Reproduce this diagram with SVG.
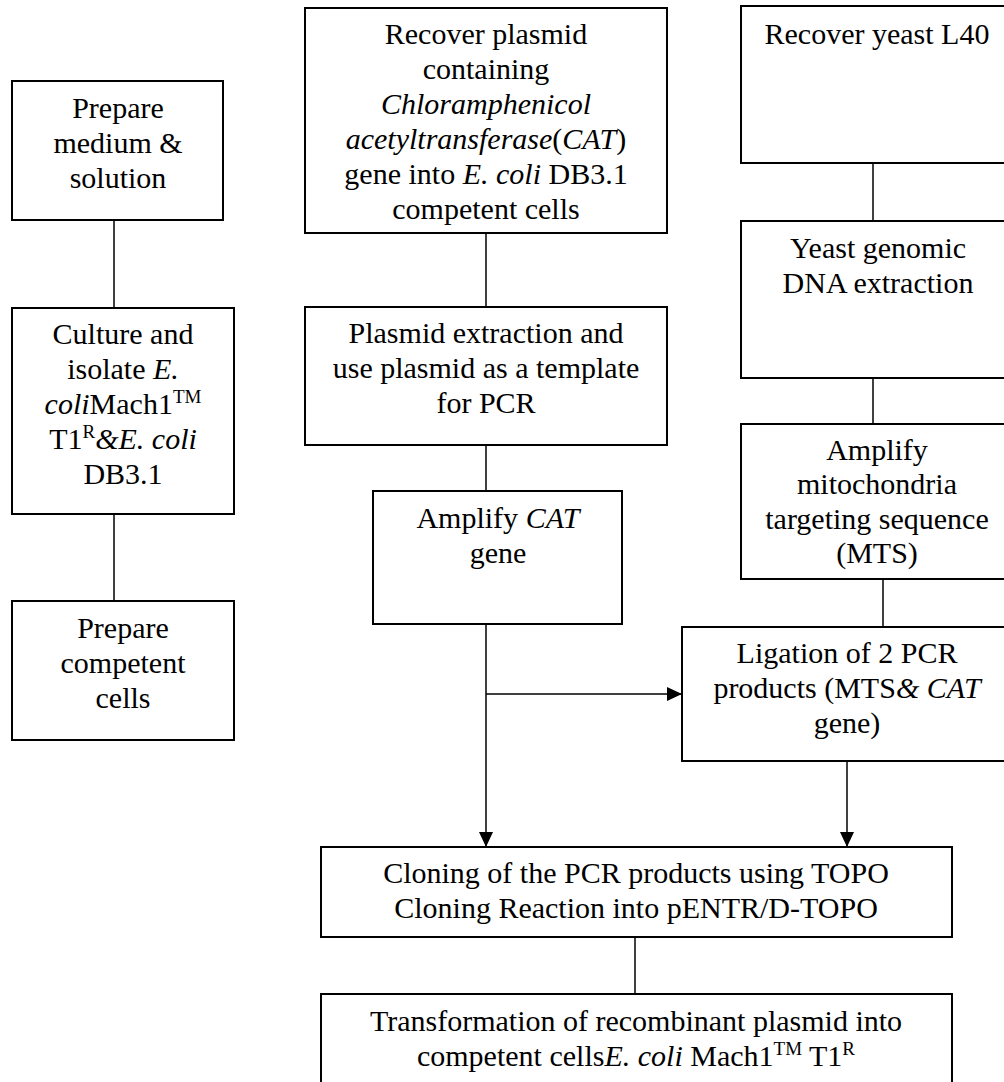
<svg xmlns="http://www.w3.org/2000/svg" width="1004" height="1082" viewBox="0 0 1004 1082">
<style>
.box{fill:#fff;stroke:#000;stroke-width:2}
.conn{stroke:#000;stroke-width:1.5;fill:none}
.t text{font-size:30px;text-anchor:middle;fill:#000}
.i{font-style:italic}
.sup{font-size:19px}
</style>
<defs>
<marker id="arr" markerUnits="userSpaceOnUse" markerWidth="15" markerHeight="14" refX="15" refY="7" orient="auto">
<path d="M0,0 L15,7 L0,14 z" fill="#000"/>
</marker>
</defs>
<rect width="1004" height="1082" fill="#fff"/>
<g id="connectors">
<path class="conn" d="M114,220 V308"/>
<path class="conn" d="M114,514 V601"/>
<path class="conn" d="M486,233 V307"/>
<path class="conn" d="M486,445 V491"/>
<path class="conn" d="M486,624 V847" marker-end="url(#arr)"/>
<path class="conn" d="M486,694 H682" marker-end="url(#arr)"/>
<path class="conn" d="M873,163 V221"/>
<path class="conn" d="M873,378 V424"/>
<path class="conn" d="M883,579 V627"/>
<path class="conn" d="M847,761 V847" marker-end="url(#arr)"/>
<path class="conn" d="M635,937 V994"/>
</g>
<g class="t" font-family="'Liberation Serif', 'Times New Roman', 'DejaVu Serif', serif">
<g id="prepare-medium">
<rect class="box" x="12" y="81" width="211" height="139"/>
<text x="118" y="118">Prepare</text>
<text x="118" y="153">medium &amp;</text>
<text x="118" y="188">solution</text>
</g>
<g id="culture-isolate">
<rect class="box" x="12" y="308" width="222" height="206"/>
<text x="123" y="344">Culture and</text>
<text x="123" y="379">isolate <tspan class="i">E.</tspan></text>
<text x="123" y="414"><tspan class="i">coli</tspan>Mach1<tspan class="sup" dy="-11">TM</tspan></text>
<text x="123" y="449">T1<tspan class="sup" dy="-11">R</tspan><tspan class="i" dy="11">&amp;E. coli</tspan></text>
<text x="123" y="484">DB3.1</text>
</g>
<g id="prepare-competent">
<rect class="box" x="12" y="601" width="222" height="139"/>
<text x="123" y="638">Prepare</text>
<text x="123" y="673">competent</text>
<text x="123" y="708">cells</text>
</g>
<g id="recover-plasmid">
<rect class="box" x="305" y="8" width="362" height="225"/>
<text x="486" y="44">Recover plasmid</text>
<text x="486" y="79">containing</text>
<text x="486" y="114" class="i">Chloramphenicol</text>
<text x="486" y="149"><tspan class="i">acetyltransferase</tspan>(<tspan class="i">CAT</tspan>)</text>
<text x="486" y="184">gene into <tspan class="i">E. coli</tspan> DB3.1</text>
<text x="486" y="219">competent cells</text>
</g>
<g id="plasmid-extraction">
<rect class="box" x="305" y="307" width="362" height="138"/>
<text x="486" y="343">Plasmid extraction and</text>
<text x="486" y="378">use plasmid as a template</text>
<text x="486" y="413">for PCR</text>
</g>
<g id="amplify-cat">
<rect class="box" x="373" y="491" width="249" height="133"/>
<text x="498" y="528">Amplify <tspan class="i">CAT</tspan></text>
<text x="498" y="563">gene</text>
</g>
<g id="recover-yeast">
<rect class="box" x="741" y="6" width="272" height="157"/>
<text x="877" y="44">Recover yeast L40</text>
</g>
<g id="yeast-dna">
<rect class="box" x="741" y="221" width="272" height="157"/>
<text x="878" y="258">Yeast genomic</text>
<text x="878" y="293">DNA extraction</text>
</g>
<g id="amplify-mts">
<rect class="box" x="741" y="424" width="272" height="155"/>
<text x="877" y="460">Amplify</text>
<text x="877" y="494">mitochondria</text>
<text x="877" y="529">targeting sequence</text>
<text x="877" y="563">(MTS)</text>
</g>
<g id="ligation">
<rect class="box" x="682" y="627" width="331" height="134"/>
<text x="847" y="663">Ligation of 2 PCR</text>
<text x="847" y="698">products (MTS<tspan class="i">&amp; CAT</tspan></text>
<text x="847" y="733">gene)</text>
</g>
<g id="cloning">
<rect class="box" x="321" y="847" width="631" height="90"/>
<text x="636" y="883">Cloning of the PCR products using TOPO</text>
<text x="636" y="918">Cloning Reaction into pENTR/D-TOPO</text>
</g>
<g id="transformation">
<rect class="box" x="321" y="994" width="631" height="100"/>
<text x="636" y="1031">Transformation of recombinant plasmid into</text>
<text x="636" y="1066">competent cells<tspan class="i">E. coli</tspan> Mach1<tspan class="sup" dy="-11">TM</tspan><tspan dy="11"> T1</tspan><tspan class="sup" dy="-11">R</tspan></text>
</g>
</g>
</svg>
